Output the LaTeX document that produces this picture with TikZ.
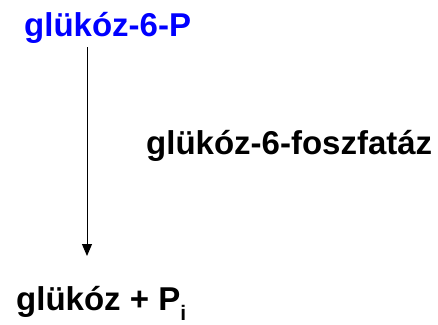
\documentclass[tikz,border=0pt]{standalone}
\usepackage{fontspec}
\setmainfont{Liberation Sans}
\usetikzlibrary{arrows.meta}
\definecolor{chemblue}{RGB}{0,0,255}
\tikzset{
  lbl/.style={anchor=base west, inner sep=0pt, font=\fontsize{33}{40}\selectfont\bfseries},
  arrowline/.style={line width=1pt, -{Triangle[width=10pt,length=12pt]}}
}
\begin{document}
\begin{tikzpicture}[x=1pt,y=-1pt]
\useasboundingbox (0,0) rectangle (438,324);
\node[lbl, text=chemblue] (g6p) at (24,36) {glükóz-6-P};
\node[lbl] (enz) at (146,154) {glükóz-6-foszfatáz};
\node[lbl] (prod) at (16,310) {glükóz + P\raisebox{-10pt}{\fontsize{21}{24}\selectfont i}};
\coordinate (astart) at (87,47);
\coordinate (aend) at (87,256);
\draw[arrowline] (astart) -- (aend);
\end{tikzpicture}
\end{document}
